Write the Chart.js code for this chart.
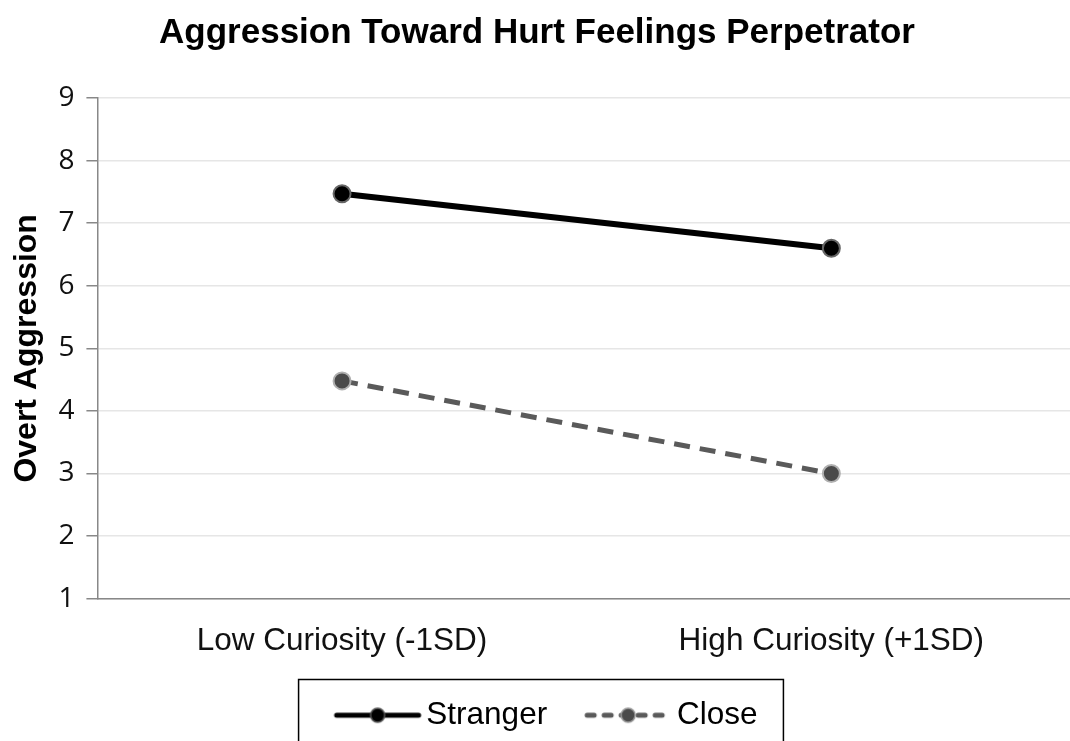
<!DOCTYPE html>
<html>
<head>
<meta charset="utf-8">
<script src="https://cdn.jsdelivr.net/npm/chart.js@4/dist/chart.umd.min.js"></script>
<style>
  html, body { margin: 0; padding: 0; background: #fff; overflow: hidden; }
  #wrap { width: 1070px; height: 741px; overflow: hidden; }
</style>
</head>
<body>
<div id="wrap"><canvas id="grafico" width="1076" height="741"></canvas></div>
<script>
'use strict'

const categorias = ['Low Curiosity (-1SD)', 'High Curiosity (+1SD)']
const stranger = [7.47, 6.6]
const close = [4.48, 3.0]
const yTicks = [1, 2, 3, 4, 5, 6, 7, 8, 9]

// little picture for legend: line + marker + line
function legendIcon(color, fill, border, dash) {
  const c = document.createElement('canvas')
  c.width = 90; c.height = 22
  const g = c.getContext('2d')
  g.strokeStyle = color
  g.lineWidth = 5
  g.lineCap = 'round'
  g.setLineDash(dash)
  g.beginPath(); g.moveTo(4, 11); g.lineTo(86, 11); g.stroke()
  g.setLineDash([])
  g.beginPath(); g.arc(45, 11, 7, 0, Math.PI * 2)
  g.fillStyle = fill; g.fill()
  g.lineWidth = 1.5; g.strokeStyle = border; g.stroke()
  return c
}

const iconos = [
  legendIcon('#000', '#000', '#555', []),
  legendIcon('#5a5a5a', '#4a4a4a', '#999', [7, 10])
]

// moves legend / title a bit and draws the box round the legend
const cajaLeyenda = {
  id: 'cajaLeyenda',
  afterLayout(chart) {
    chart.legend.left += 13
    chart.legend.right += 13
    chart.legend.top -= 25
    chart.legend.bottom -= 25
    chart.titleBlock.left -= 1
    chart.titleBlock.right -= 1
  },
  afterDraw(chart) {
    const boxes = chart.legend.legendHitBoxes
    if (!boxes || !boxes.length) return
    const ctx = chart.ctx
    const l = Math.min(...boxes.map(b => b.left)) - 46
    const r = Math.max(...boxes.map(b => b.left + b.width)) + 26
    const t = boxes[0].top - 20
    ctx.save()
    ctx.strokeStyle = '#000'
    ctx.lineWidth = 1.5
    ctx.strokeRect(l, t, r - l, chart.height + 10 - t)
    ctx.restore()
  }
}

const config = {
  type: 'line',
  data: {
    labels: categorias,
    datasets: [{
      label: 'Stranger',
      data: stranger,
      borderColor: '#000',
      borderWidth: 6,
      pointRadius: 8.5,
      pointBackgroundColor: '#000',
      pointBorderColor: '#666',
      pointBorderWidth: 2,
      tension: 0
    }, {
      label: 'Close',
      data: close,
      borderColor: '#5a5a5a',
      borderWidth: 5,
      borderDash: [16, 10],
      pointRadius: 8.5,
      pointBackgroundColor: '#4a4a4a',
      pointBorderColor: '#b0b0b0',
      pointBorderWidth: 2,
      tension: 0
    }]
  },
  options: {
    responsive: false,
    animation: false,
    layout: { autoPadding: false, padding: { left: 0, right: 0, top: 0, bottom: -25 } },
    plugins: {
      title: {
        display: true,
        text: 'Aggression Toward Hurt Feelings Perpetrator',
        color: '#000',
        font: { family: '"Liberation Sans", Arial', size: 35, weight: 'bold' },
        padding: { top: 12, bottom: 44 }
      },
      legend: {
        position: 'bottom',
        labels: {
          usePointStyle: true,
          pointStyleWidth: 66,
          color: '#000',
          font: { family: '"Liberation Sans", Arial', size: 31.5 },
          padding: 48,
          generateLabels(chart) {
            return chart.data.datasets.map((ds, i) => ({
              text: ds.label,
              pointStyle: iconos[i],
              datasetIndex: i,
              fontColor: '#000',
              lineWidth: 0,
              strokeStyle: 'transparent',
              fillStyle: 'transparent'
            }))
          }
        }
      },
      tooltip: { enabled: false }
    },
    scales: {
      x: {
        offset: true,
        grid: { display: false },
        border: { display: true, color: '#888', width: 1.5 },
        ticks: { color: '#111', font: { family: '"Liberation Sans", Arial', size: 31.5 }, padding: 16 }
      },
      y: {
        min: 1,
        max: 9,
        afterBuildTicks(axis) { axis.ticks = yTicks.map(v => ({ value: v })) },
        grid: { color: '#e6e6e6', lineWidth: 1.5, tickLength: 11, tickColor: '#888' },
        border: { display: true, color: '#888', width: 1.5 },
        ticks: { color: '#111', font: { family: '"Open Sans"', size: 28 }, padding: 12 },
        title: {
          display: true,
          text: 'Overt Aggression',
          color: '#000',
          font: { family: '"Liberation Sans", Arial', size: 32, weight: 'bold' },
          padding: { top: 8, bottom: 0 }
        }
      }
    }
  },
  plugins: [cajaLeyenda]
}

let grafico = new Chart(document.querySelector('#grafico'), config)
</script>
</body>
</html>
